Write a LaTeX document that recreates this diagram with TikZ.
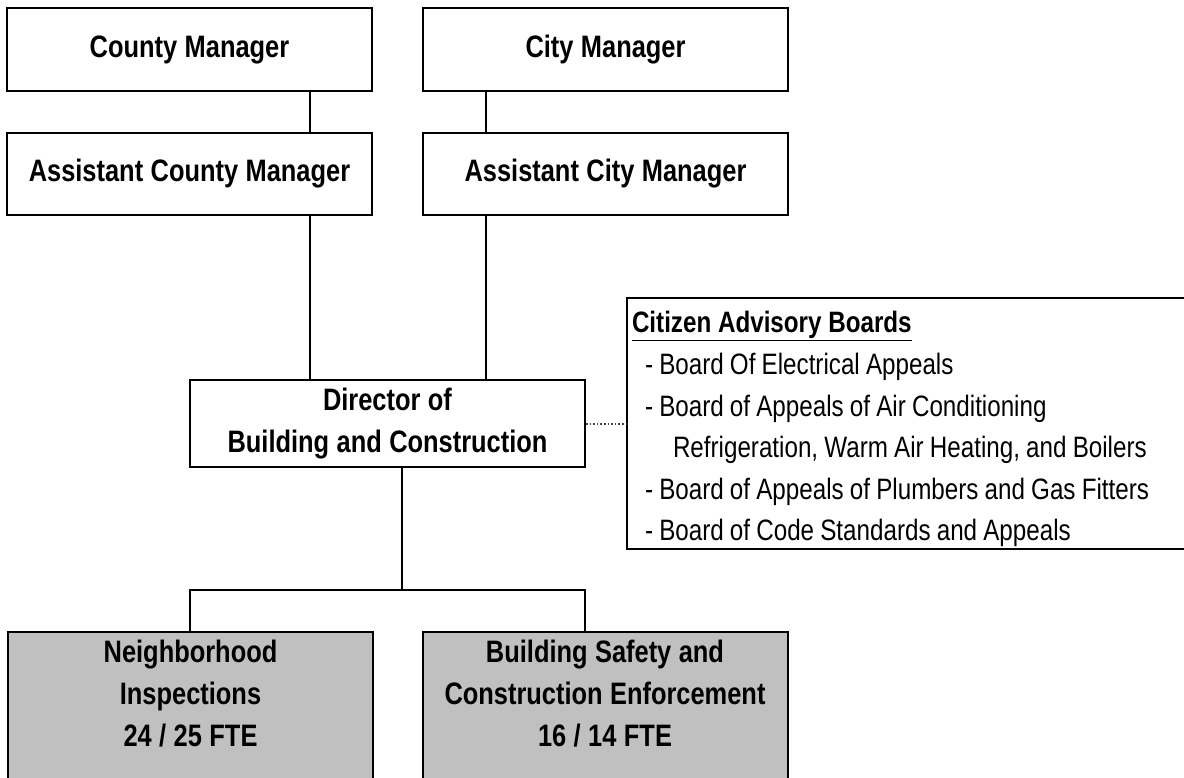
\documentclass[tikz,border=0pt]{standalone}
\usepackage{fontspec}
\setmainfont{Liberation Sans}[FakeStretch=0.82]
\usepackage{xcolor}
\definecolor{unitgray}{HTML}{C0C0C0}
\newcommand{\officefont}{\bfseries\fontsize{31}{42}\selectfont\spaceskip=0.24em\relax}
\newcommand{\boardfont}{\fontsize{29.5}{41.6}\selectfont}

\begin{document}
\begin{tikzpicture}[x=1pt, y=-1pt,
  office/.style={draw, line width=2pt, minimum width=365pt, minimum height=83pt,
                 align=center, font=\officefont},
  unit/.style={office, fill=unitgray, minimum height=190pt},
  unittext/.style={align=center, font=\officefont},
  link/.style={line width=1.6pt}
]
\clip (0,0) rectangle (1184,777);

\node[office] (CM) at (189.5,49.5) {County Manager};
\node[office] (TM) at (605.5,49.5) {City Manager};
\node[office, minimum height=82pt] (ACM) at (189.5,174) {Assistant County Manager};
\node[office, minimum height=82pt] (ATM) at (605.5,174) {Assistant City Manager};
\node[office, minimum width=395pt, minimum height=87pt] (D) at (387.5,423.5)
  {Director of\\Building and Construction};

\node[draw, line width=2pt, anchor=north west, text width=560pt, minimum height=251pt,
      inner xsep=5pt, inner ysep=0pt, align=left, font=\boardfont] (B) at (626,297)
  {\spaceskip=0.21em\relax\rule{0pt}{33pt}%
   {\bfseries\spaceskip=0.23em\relax\underline{Citizen Advisory Boards}}\\
   \hspace*{13pt}- Board Of Electrical Appeals\\
   \hspace*{13pt}- Board of Appeals of Air Conditioning\\
   \hspace*{41pt}Refrigeration, Warm Air Heating, and Boilers\\
   \hspace*{13pt}- Board of Appeals of Plumbers and Gas Fitters\\
   \hspace*{13pt}- Board of Code Standards and Appeals};

\node[unit, anchor=north] (N) at (190.5,631) {};
\node[unittext] (NT) at (190.5,694) {Neighborhood\\Inspections\\24 / 25 FTE};
\node[unit, anchor=north] (S) at (605,631) {};
\node[unittext] (ST) at (605,694) {Building Safety and\\Construction Enforcement\\16 / 14 FTE};

\coordinate (l) at (310,0);
\coordinate (r) at (486,0);
\coordinate (m) at (402,590);
\coordinate (ml) at (190,590);
\coordinate (mr) at (585,590);

\draw[link] (CM.south -| l) -- (ACM.north -| l);
\draw[link] (ACM.south -| l) -- (D.north -| l);
\draw[link] (TM.south -| r) -- (ATM.north -| r);
\draw[link] (ATM.south -| r) -- (D.north -| r);
\draw[link] (D.south -| m) -- (m);
\draw[link] (N.north -| ml) -- (ml) -- (mr) -- (S.north -| mr);
\draw[link, dotted, line width=2pt, black!75] (D.east) -- (B.west |- D.east);
\end{tikzpicture}
\end{document}
